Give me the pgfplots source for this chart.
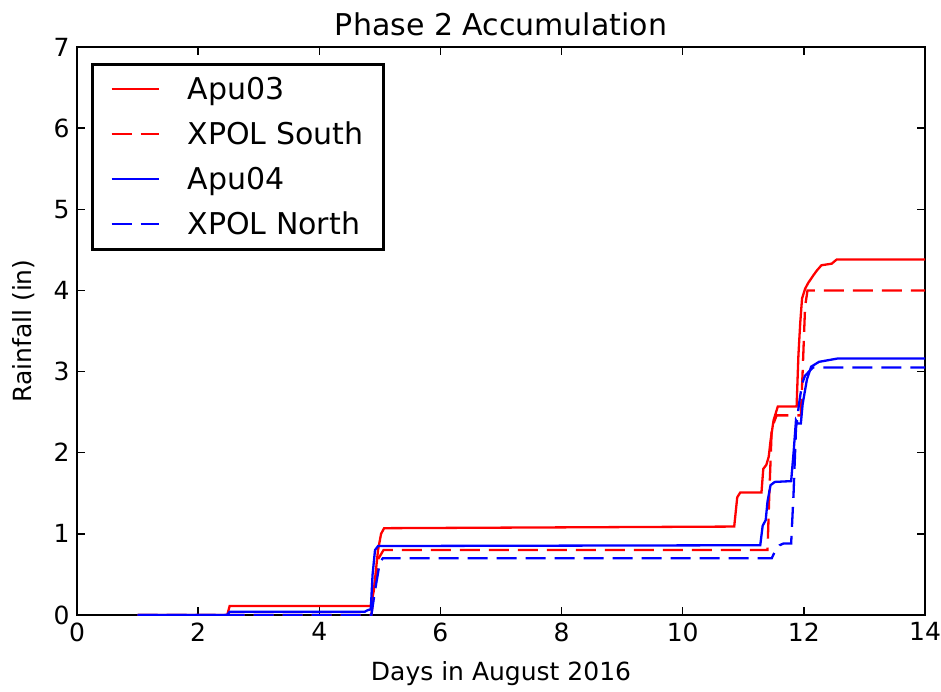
\documentclass[border=0pt]{standalone}
\usepackage{fontspec}
\setmainfont{DejaVu Sans}
\usepackage{pgfplots}
\pgfplotsset{compat=1.18}

\definecolor{mplred}{rgb}{1,0,0}
\definecolor{mplblue}{rgb}{0,0,1}

\begin{document}
\begin{tikzpicture}
\useasboundingbox (-77pt,-76pt) rectangle (864pt,615pt);
\begin{axis}[
  at={(0pt,0pt)}, anchor=south west,
  scale only axis,
  width=848pt, height=568pt,
  xmin=0, xmax=14, ymin=0, ymax=7,
  xtick={0,2,...,14}, ytick={0,1,...,7},
  tick align=inside,
  xtick pos=both, ytick pos=both,
  major tick length=8pt,
  every tick/.style={black, line width=1.3pt},
  axis line style={black, line width=2pt},
  /pgf/number format/assume math mode=true,
  ticklabel style={font=\fontsize{25}{30}\selectfont},
  xticklabel style={yshift=-4pt},
  yticklabel style={xshift=-4pt},
  title={Phase 2 Accumulation},
  title style={font=\fontsize{30}{36}\selectfont, yshift=2pt},
  xlabel={Days in August 2016},
  ylabel={Rainfall (in)},
  label style={font=\fontsize{25}{30}\selectfont},
  xlabel style={yshift=-13pt},
  ylabel style={yshift=12pt},
  legend style={
    at={(0.0165,0.972)}, anchor=north west,
    draw=black, line width=2.8pt, fill=white,
    inner xsep=18pt, inner ysep=11pt,
    row sep=17pt,
    font=\fontsize{30}{36}\selectfont,
    cells={anchor=west},
  },
  legend image code/.code={\draw[#1] (0pt,0pt) -- (47pt,0pt);},
  /tikz/every odd column/.style={column sep=26pt},
]
% Apu03 gauge
\addplot[mplred, line width=2.3pt] coordinates {
 (1,0) (2.48,0) (2.52,0.11) (4.85,0.11) (4.90,0.30) (4.97,0.80) (5.02,1.00) (5.07,1.07)
 (8,1.08) (10.85,1.09) (10.90,1.45) (10.95,1.51) (11.30,1.51) (11.33,1.80) (11.38,1.85)
 (11.42,1.95) (11.45,2.15) (11.50,2.40) (11.57,2.57) (11.88,2.57) (11.91,3.20)
 (11.94,3.60) (11.97,3.90) (12.02,4.02) (12.07,4.09) (12.16,4.19) (12.22,4.25)
 (12.29,4.31) (12.46,4.33) (12.54,4.38) (14,4.38)
};
\addlegendentry{Apu03}
% XPOL south sector
\addplot[mplred, line width=2.3pt, dash pattern=on 20pt off 9pt] coordinates {
 (1,0) (4.86,0) (4.92,0.40) (4.98,0.70) (5.06,0.80) (11.40,0.80) (11.43,1.50)
 (11.47,2.30) (11.55,2.46) (11.95,2.46) (11.98,3.00) (12.02,3.80) (12.06,4.00) (14,4.00)
};
\addlegendentry{XPOL South}
% Apu04 gauge
\addplot[mplblue, line width=2.3pt] coordinates {
 (1,0) (2.48,0) (2.52,0.04) (4.75,0.04) (4.80,0.06) (4.85,0.07) (4.88,0.50)
 (4.92,0.80) (4.97,0.85) (11.28,0.86) (11.32,1.10) (11.37,1.17) (11.40,1.40)
 (11.45,1.60) (11.52,1.64) (11.79,1.65) (11.83,2.00) (11.87,2.40) (11.90,2.36)
 (11.95,2.36) (11.98,2.60) (12.05,2.90) (12.12,3.06) (12.25,3.12) (12.55,3.16) (14,3.16)
};
\addlegendentry{Apu04}
% XPOL north sector
\addplot[mplblue, line width=2.3pt, dash pattern=on 20pt off 9pt] coordinates {
 (1,0) (4.86,0) (4.92,0.30) (5.00,0.65) (5.05,0.70) (11.47,0.70) (11.52,0.78)
 (11.60,0.86) (11.66,0.88) (11.79,0.88) (11.83,1.50) (11.87,2.30) (11.92,2.60)
 (11.97,2.85) (12.02,2.95) (12.15,3.05) (14,3.05)
};
\addlegendentry{XPOL North}
\end{axis}
\end{tikzpicture}
\end{document}
